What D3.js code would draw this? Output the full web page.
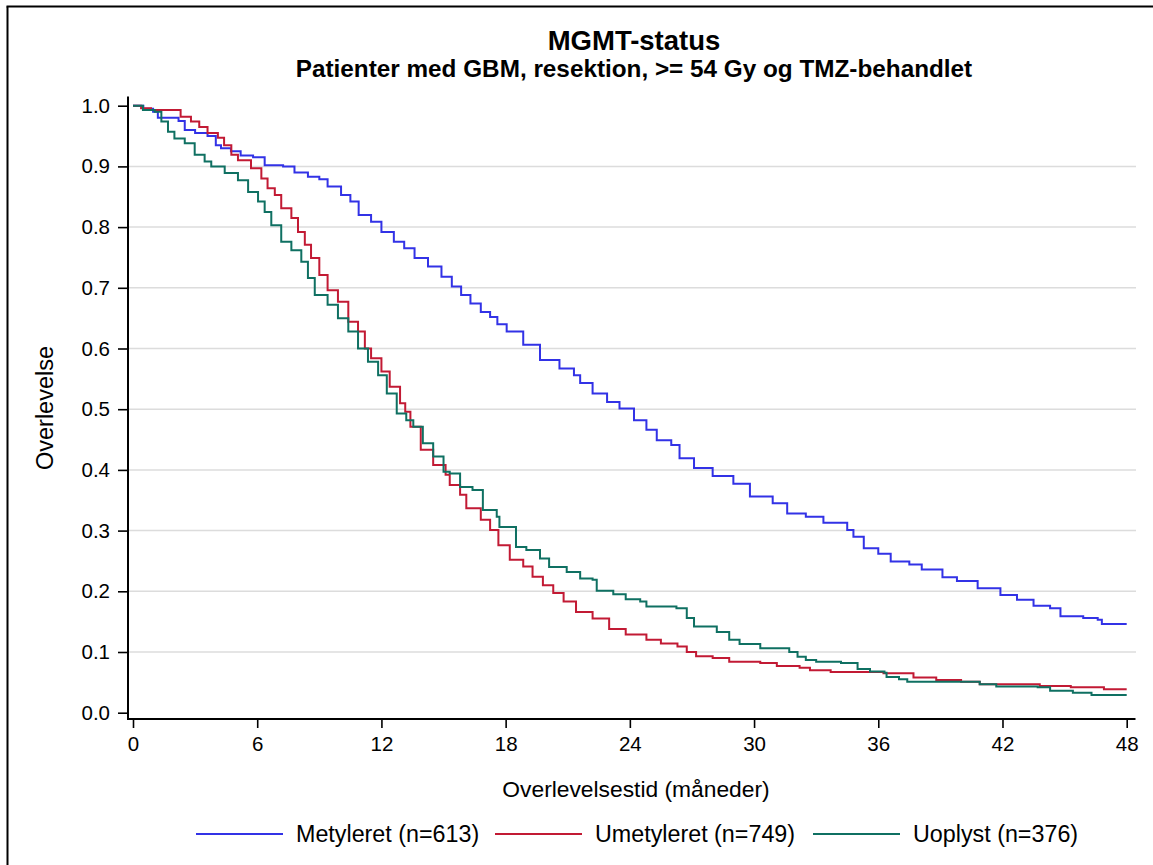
<!DOCTYPE html>
<html><head><meta charset="utf-8">
<script src="https://cdn.jsdelivr.net/npm/d3@7"></script>
<style>html,body{margin:0;padding:0;background:#fff;}svg{display:block;}</style>
</head><body>
<svg id="chart" width="1153" height="865"></svg>
<script>
const title = "MGMT-status";
const subtitle = "Patienter med GBM, resektion, >= 54 Gy og TMZ-behandlet";
const xLabel = "Overlevelsestid (måneder)";
const yLabel = "Overlevelse";
const xTicks = [0, 6, 12, 18, 24, 30, 36, 42, 48];
const yTicks = [0, 0.1, 0.2, 0.3, 0.4, 0.5, 0.6, 0.7, 0.8, 0.9, 1.0];
const seriesNames = ["Metyleret (n=613)", "Umetyleret (n=749)", "Uoplyst (n=376)"];
const seriesColors = ["#3232e6", "#c21a34", "#0f7062"];

// [months, survival]
const metyleret = [[0,1.0],[0.5,0.995],[0.97,0.99],[1.2,0.98],[2.2,0.975],[2.5,0.96],[3.0,0.955],[3.6,0.95],[4.0,0.935],[4.25,0.93],[4.73,0.925],[5.2,0.918],[5.8,0.915],[6.36,0.902],[7.25,0.90],[7.8,0.89],[8.45,0.883],[9.0,0.879],[9.4,0.867],[10.05,0.853],[10.5,0.842],[10.9,0.82],[11.5,0.809],[12.0,0.792],[12.6,0.776],[13.1,0.765],[13.6,0.749],[14.25,0.735],[14.9,0.718],[15.4,0.702],[15.85,0.688],[16.3,0.674],[16.8,0.66],[17.25,0.652],[17.6,0.64],[18.05,0.628],[18.85,0.606],[19.66,0.581],[20.6,0.567],[21.3,0.556],[21.6,0.543],[22.2,0.526],[22.9,0.512],[23.5,0.501],[24.2,0.482],[24.8,0.466],[25.3,0.449],[26.0,0.441],[26.4,0.419],[27.1,0.403],[28.0,0.39],[29.0,0.377],[29.8,0.356],[30.9,0.345],[31.6,0.328],[32.5,0.323],[33.35,0.313],[34.5,0.301],[34.8,0.29],[35.3,0.271],[36.0,0.262],[36.6,0.249],[37.5,0.244],[38.1,0.236],[39.1,0.223],[39.8,0.217],[40.8,0.205],[41.9,0.194],[42.7,0.186],[43.5,0.176],[44.3,0.172],[44.8,0.159],[45.9,0.156],[46.6,0.153],[46.8,0.146],[48,0.146]];
const umetyleret = [[0,1.0],[0.39,0.996],[0.87,0.993],[2.3,0.982],[2.8,0.974],[3.2,0.965],[3.6,0.955],[4.1,0.947],[4.4,0.935],[4.75,0.919],[5.07,0.91],[5.7,0.897],[6.2,0.88],[6.5,0.864],[6.85,0.853],[7.16,0.831],[7.65,0.815],[7.97,0.792],[8.3,0.771],[8.6,0.749],[9.0,0.721],[9.4,0.696],[9.9,0.677],[10.4,0.644],[10.87,0.628],[11.2,0.6],[11.5,0.584],[12.0,0.562],[12.4,0.537],[12.9,0.51],[13.15,0.496],[13.4,0.471],[13.9,0.433],[14.5,0.408],[15.1,0.392],[15.3,0.375],[15.8,0.359],[16.1,0.337],[16.8,0.318],[17.25,0.301],[17.65,0.276],[18.2,0.252],[18.85,0.241],[19.3,0.224],[19.8,0.21],[20.3,0.197],[20.8,0.183],[21.4,0.166],[22.2,0.155],[23.0,0.138],[23.8,0.129],[24.8,0.12],[25.5,0.114],[26.3,0.109],[26.75,0.1],[27.2,0.093],[28.0,0.09],[28.8,0.084],[30.3,0.082],[31.1,0.077],[32.2,0.074],[32.7,0.07],[33.7,0.067],[36.25,0.065],[37.7,0.058],[38.8,0.054],[40.0,0.051],[40.9,0.047],[43.8,0.044],[45.3,0.042],[46.9,0.0385],[48,0.0385]];
const uoplyst = [[0,1.0],[0.48,0.993],[1.05,0.99],[1.37,0.974],[1.69,0.957],[2.0,0.946],[2.5,0.938],[2.98,0.919],[3.46,0.908],[3.78,0.9],[4.43,0.889],[5.07,0.877],[5.56,0.858],[6.04,0.842],[6.36,0.825],[6.68,0.803],[7.16,0.776],[7.65,0.762],[8.13,0.743],[8.45,0.716],[8.78,0.688],[9.4,0.672],[9.9,0.65],[10.4,0.628],[10.87,0.6],[11.35,0.578],[11.84,0.556],[12.26,0.526],[12.74,0.493],[13.2,0.482],[13.54,0.471],[14.0,0.444],[14.5,0.422],[15.0,0.397],[15.3,0.394],[15.8,0.372],[16.4,0.367],[16.9,0.334],[17.57,0.323],[17.7,0.306],[18.5,0.273],[19.0,0.268],[19.66,0.254],[20.1,0.24],[20.95,0.232],[21.6,0.221],[22.2,0.219],[22.4,0.201],[23.2,0.195],[23.8,0.187],[24.5,0.183],[24.8,0.175],[26.25,0.172],[26.75,0.156],[27.1,0.142],[28.2,0.133],[28.8,0.12],[29.3,0.113],[30.3,0.106],[31.7,0.1],[32.1,0.092],[32.5,0.087],[33.0,0.084],[34.2,0.082],[35.0,0.072],[35.6,0.068],[36.3,0.066],[36.4,0.059],[37.0,0.055],[37.4,0.051],[40.1,0.051],[40.9,0.047],[41.7,0.043],[43.7,0.042],[44.3,0.036],[45.4,0.033],[46.3,0.029],[48,0.029]];

const seriesData = [metyleret, umetyleret, uoplyst];

const svg = d3.select("#chart");
const font = "'Liberation Sans', Arial, Helvetica, sans-serif";
svg.style("font-family", font);

const x = d3.scaleLinear().domain([0, 48]).range([133, 1126.7]);
const y = d3.scaleLinear().domain([0, 1]).range([712.7, 105.7]);

// outer frame (left and top only visible)
svg.append("line").attr("x1", 7.5).attr("x2", 7.5).attr("y1", 6.5).attr("y2", 865).attr("stroke", "#000").attr("stroke-width", 2);
svg.append("line").attr("x1", 6.5).attr("x2", 1153).attr("y1", 6.5).attr("y2", 6.5).attr("stroke", "#000").attr("stroke-width", 2);

// gridlines
svg.append("g").selectAll("line").data(yTicks.filter(d => d > 0.001 && d < 0.999)).join("line")
  .attr("x1", 128).attr("x2", 1136)
  .attr("y1", d => y(d)).attr("y2", d => y(d))
  .attr("stroke", "#dcdcdc").attr("stroke-width", 1.5);

// axes
const yAxis = d3.axisLeft(y).tickValues(yTicks).tickFormat(d3.format(".1f")).tickSize(10).tickPadding(8);
const gy = svg.append("g").attr("transform", "translate(128,0)").call(yAxis);
gy.select(".domain").remove();
gy.selectAll(".tick line").attr("stroke", "#000").attr("stroke-width", 1.6);
gy.selectAll(".tick text").attr("font-size", 20.5).attr("font-family", font).attr("fill", "#000");

const xAxis = d3.axisBottom(x).tickValues(xTicks).tickFormat(d3.format("d")).tickSize(9).tickPadding(8);
const gx = svg.append("g").attr("transform", "translate(0,719)").call(xAxis);
gx.select(".domain").remove();
gx.selectAll(".tick line").attr("stroke", "#000").attr("stroke-width", 1.6);
gx.selectAll(".tick text").attr("font-size", 20.5).attr("font-family", font).attr("fill", "#000");

svg.append("line").attr("x1", 128).attr("x2", 128).attr("y1", 96.5).attr("y2", 720).attr("stroke", "#000").attr("stroke-width", 2);
svg.append("line").attr("x1", 127).attr("x2", 1135.5).attr("y1", 719).attr("y2", 719).attr("stroke", "#000").attr("stroke-width", 2);

// curves
const line = d3.line().x(d => x(d[0])).y(d => y(d[1])).curve(d3.curveStepAfter);
svg.append("g").selectAll("path").data(seriesData).join("path")
  .attr("d", line).attr("fill", "none")
  .attr("stroke", (d, i) => seriesColors[i]).attr("stroke-width", 2);

// titles
svg.append("text").attr("x", 634).attr("y", 50).attr("text-anchor", "middle")
  .attr("font-size", 27.5).attr("font-weight", "bold").text(title);
svg.append("text").attr("x", 634).attr("y", 77).attr("text-anchor", "middle")
  .attr("font-size", 24.3).attr("font-weight", "bold").text(subtitle);

svg.append("text").attr("x", 636).attr("y", 797).attr("text-anchor", "middle")
  .attr("font-size", 22.8).text(xLabel);
svg.append("text").attr("transform", "translate(53,408) rotate(-90)").attr("text-anchor", "middle")
  .attr("font-size", 23.5).text(yLabel);

// legend
const legendLineX = [196, 495, 813];
const lg = svg.append("g");
seriesNames.forEach((name, i) => {
  lg.append("line").attr("x1", legendLineX[i]).attr("x2", legendLineX[i] + 87)
    .attr("y1", 834).attr("y2", 834).attr("stroke", seriesColors[i]).attr("stroke-width", 2);
  lg.append("text").attr("x", legendLineX[i] + 100).attr("y", 842)
    .attr("font-size", 23.3).text(name);
});
</script>
</body></html>
